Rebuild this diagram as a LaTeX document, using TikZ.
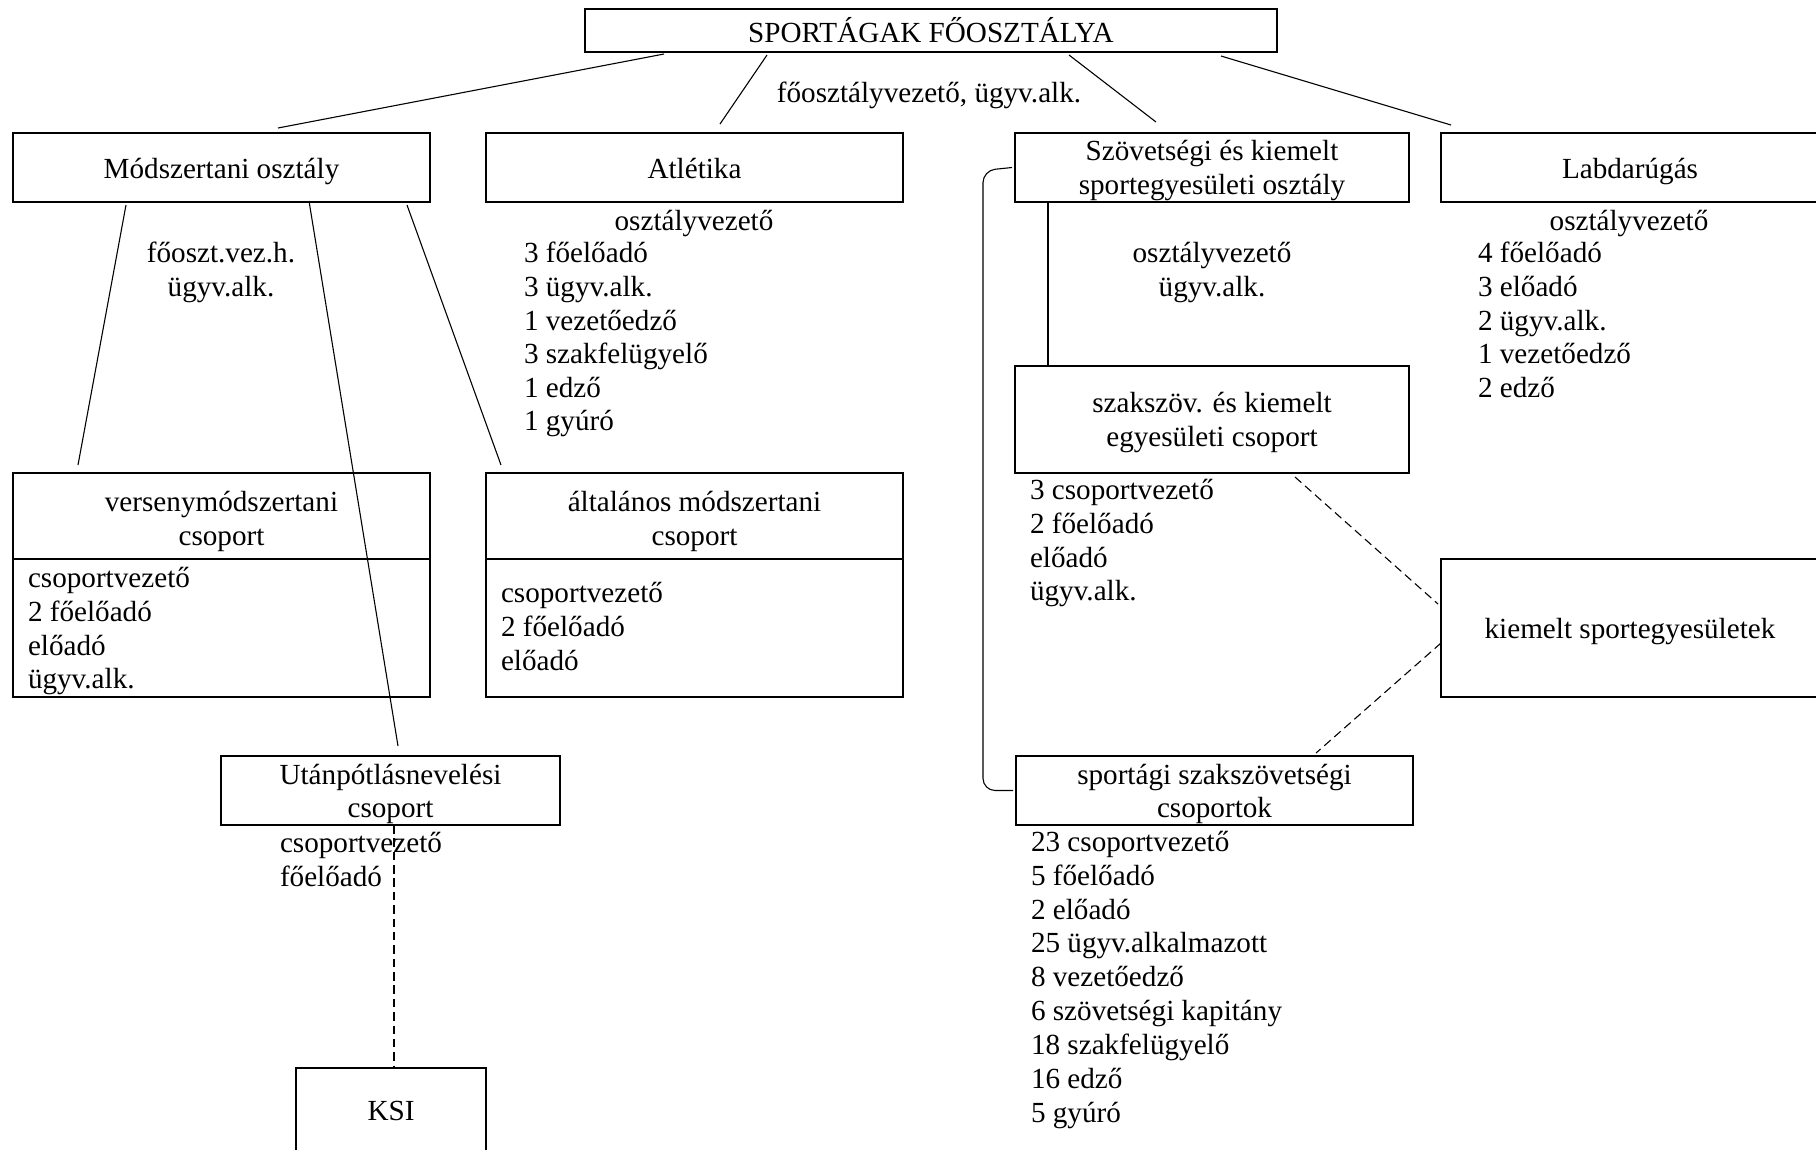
\documentclass[tikz,border=0pt]{standalone}
\usepackage{fontspec}
\setmainfont{Liberation Serif}
\usetikzlibrary{calc}
\newcommand\uu{0.4115pt}
\newcommand\tl{\rule{0pt}{11pt}}
\begin{document}
\begin{tikzpicture}[x=0.4115pt,y=-0.4115pt,
  every node/.style={font=\fontsize{12}{13.8}\selectfont, inner sep=0pt, outer sep=0pt},
  box/.style={draw, line width=0.8pt, align=center},
  oneline/.style={text height=9pt, text depth=0pt},
  conn/.style={line width=0.45pt},
  dashconn/.style={line width=0.45pt, dash pattern=on 3.5pt off 2pt},
  listtxt/.style={anchor=north west, align=left},
  headtxt/.style={anchor=base, align=center}]
\useasboundingbox (0,0) rectangle (1816,1149);
\clip (0,0) rectangle (1816,1149);

% top level
\node[box, minimum width=692*\uu, minimum height=43*\uu] (top) at (931,30.5) {SPORTÁGAK FŐOSZTÁLYA};
\node[headtxt] (topstaff) at (929,102) {főosztályvezető, ügyv.alk.};

% departments
\node[box, oneline, minimum width=417*\uu, minimum height=69*\uu] (mod) at (221.5,167.5) {Módszertani osztály};
\node[box, oneline, minimum width=417*\uu, minimum height=69*\uu] (atl) at (694.5,167.5) {Atlétika};
\node[box, minimum width=394*\uu, minimum height=69*\uu] (szov) at (1212,167.5) {\tl Szövetségi és kiemelt\\sportegyesületi osztály};
\node[box, oneline, minimum width=378*\uu, minimum height=69*\uu] (lab) at (1630,167.5) {Labdarúgás};

\node[anchor=north, align=center] (modstaff) at (221,239.5) {\strut főoszt.vez.h.\\ügyv.alk.};
\node[headtxt] (atlhead) at (694,230) {osztályvezető};
\node[listtxt] (atlstaff) at (524,239.5) {\strut 3 főelőadó\\3 ügyv.alk.\\1 vezetőedző\\3 szakfelügyelő\\1 edző\\1 gyúró};
\node[anchor=north, align=center] (szovstaff) at (1212,239.5) {\strut osztályvezető\\ügyv.alk.};
\node[headtxt] (labhead) at (1629,230) {osztályvezető};
\node[listtxt] (labstaff) at (1478,239.5) {\strut 4 főelőadó\\3 előadó\\2 ügyv.alk.\\1 vezetőedző\\2 edző};

% groups of Módszertani osztály
\node[box, minimum width=417*\uu, minimum height=224*\uu] (verseny) at (221.5,585) {};
\node[align=center] (versenyt) at (221.5,518) {\tl versenymódszertani\\csoport};
\draw[box] ($(verseny.north west)+(0,86)$) -- ($(verseny.north east)+(0,86)$);
\node[listtxt] (versenystaff) at (28,564.5) {\strut csoportvezető\\2 főelőadó\\előadó\\ügyv.alk.};

\node[box, minimum width=417*\uu, minimum height=224*\uu] (altal) at (694.5,585) {};
\node[align=center] (altalt) at (694.5,518) {\tl általános módszertani\\csoport};
\draw[box] ($(altal.north west)+(0,86)$) -- ($(altal.north east)+(0,86)$);
\node[listtxt] (altalstaff) at (501,579.5) {\strut csoportvezető\\2 főelőadó\\előadó};

\node[box, minimum width=339*\uu, minimum height=69*\uu] (utan) at (390.5,790.5) {\tl Utánpótlásnevelési\\csoport};
\node[listtxt] (utanstaff) at (280,829.5) {\strut csoportvezető\\főelőadó};
\node[box, oneline, minimum width=190*\uu, minimum height=84*\uu] (ksi) at (391,1110) {KSI};

% groups of Szövetségi osztály
\node[box, minimum width=394*\uu, minimum height=107*\uu] (szak) at (1212,419.5) {\tl szakszöv. és kiemelt\\egyesületi csoport};
\node[listtxt] (szakstaff) at (1030,476.5) {\strut 3 csoportvezető\\2 főelőadó\\előadó\\ügyv.alk.};
\node[box, oneline, minimum width=378*\uu, minimum height=138*\uu] (kiem) at (1630,628) {kiemelt sportegyesületek};
\node[box, minimum width=397*\uu, minimum height=69*\uu] (sport) at (1214.5,790.5) {\tl sportági szakszövetségi\\csoportok};
\node[listtxt, font=\fontsize{12}{13.95}\selectfont] (sportstaff) at (1031,827.5) {\strut 23 csoportvezető\\5 főelőadó\\2 előadó\\25 ügyv.alkalmazott\\8 vezetőedző\\6 szövetségi kapitány\\18 szakfelügyelő\\16 edző\\5 gyúró};

% connectors
\draw[conn] ($(top.south west)+(79,2)$) -- ($(mod.north west)+(265,-5)$);
\draw[conn] ($(top.south west)+(182,3)$) -- ($(atl.north west)+(234,-9)$);
\draw[conn] ($(top.south west)+(484,3)$) -- ($(szov.north west)+(141,-11)$);
\draw[conn] ($(top.south west)+(636,4)$) -- ($(lab.north west)+(10,-8)$);
\draw[conn] ($(mod.south west)+(113,3)$) -- ($(verseny.north west)+(65,-8)$);
\draw[conn] ($(mod.south west)+(296,-1)$) -- ($(utan.north west)+(177,-10)$);
\draw[conn] ($(mod.south west)+(394,3)$) -- ($(altal.north west)+(15,-8)$);
\draw[conn] ($(szov.south west)+(33,0)$) -- ($(szak.north west)+(33,0)$);
\draw[conn, rounded corners=5pt] ($(szov.west)+(-3,0)$) -- ++(-29,3) |- ($(sport.west)+(-3,0)$);
\draw[dashconn] ($(szak.south west)+(280,4)$) -- ($(kiem.west)+(-3,-24)$);
\draw[dashconn] ($(kiem.west)+(0,15)$) -- ($(sport.north west)+(300,-3)$);
\draw[dashconn] ($(utan.south)+(3.5,0)$) -- ($(ksi.north)+(3,0)$);
\end{tikzpicture}
\end{document}
